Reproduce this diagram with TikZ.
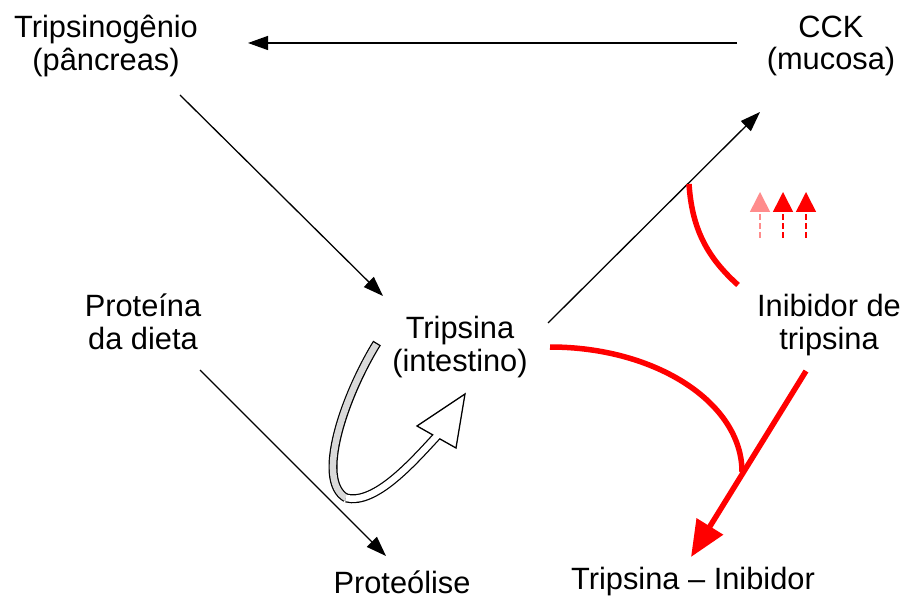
\documentclass[tikz,border=0pt]{standalone}
\usepackage{fontspec}
\setmainfont{Liberation Sans}
\usetikzlibrary{arrows.meta}
\begin{document}
\begin{tikzpicture}[x=1pt,y=-1pt,
  lbl/.style={align=center,inner sep=0pt,font=\fontsize{30.8}{32.5}\selectfont},
  blk/.style={draw=black,line width=1.3pt,-{Triangle[length=20pt,width=14pt]}},
  redthick/.style={draw=red,line width=5.5pt},
  upar/.style={red,line width=1.6pt,dash pattern=on 6pt off 3pt,-{Triangle[length=20pt,width=20pt]}}]
\useasboundingbox (0,0) rectangle (907,601);
% labels
\node[lbl] (tg) at (106,46) {Tripsinogênio\\(pâncreas)};
\node[lbl] (cck) at (831,46) {CCK\\(mucosa)};
\node[lbl] (tr) at (460,347) {Tripsina\\(intestino)};
\node[lbl] (pd) at (143,322) {Proteína\\da dieta};
\node[lbl] (inb) at (829,325) {Inibidor de\\tripsina};
\node[lbl] (pl) at (402,582) {Proteólise};
\node[lbl] (ti) at (693,582) {Tripsina – Inibidor};
% anchor coordinates
\coordinate (cckL) at (737,43);
\coordinate (tgR) at (248,43);
\coordinate (tgB) at (180,95);
\coordinate (trT) at (383,296);
\coordinate (pdB) at (200,370);
\coordinate (plT) at (386,556);
\coordinate (trR) at (548,323);
\coordinate (cckB) at (760,112);
\coordinate (trR2) at (550,347);
\coordinate (meet) at (742,472);
\coordinate (inbB) at (806,371);
\coordinate (tiT) at (691,557);
\coordinate (arcA) at (689,184);
\coordinate (arcB) at (738,285);
% black arrows
\draw[blk] (cckL) -- (tgR);
\draw[blk] (tgB) -- (trT);
\draw[blk] (pdB) -- (plT);
\draw[blk] (trR) -- (cckB);
% red
\draw[redthick] (arcA) .. controls (692,230) and (708,258) .. (arcB);
\draw[redthick] (trR2) .. controls (656,347) and (742,403) .. (meet);
\draw[red,line width=5.5pt,-{Triangle[length=36pt,width=30pt]}] (inbB) -- (tiT);
% small red arrows
\draw[upar,red!45] (760,238) -- (760,192);
\draw[upar] (783,238) -- (783,192);
\draw[upar] (806,238) -- (806,192);
% curved self arrow
\coordinate (sa) at (377,343);
\coordinate (sb) at (346,498);
\coordinate (sc) at (437,436);
\draw[line width=9pt] (sa) .. controls (345,395) and (315,480) .. (sb);
\draw[line width=9pt] (sb) .. controls (375,505) and (412,463) .. (sc);
\draw[line width=6.5pt,gray!30,shorten <=1.3pt] (sa) .. controls (345,395) and (315,480) .. (sb);
\draw[line width=1.3pt,fill=white,line join=miter] (465,394) -- (417,426) -- (456,448) -- cycle;
\draw[line width=6.5pt,white] (sb) .. controls (375,505) and (412,463) .. (sc) -- (440,432);
\end{tikzpicture}
\end{document}
